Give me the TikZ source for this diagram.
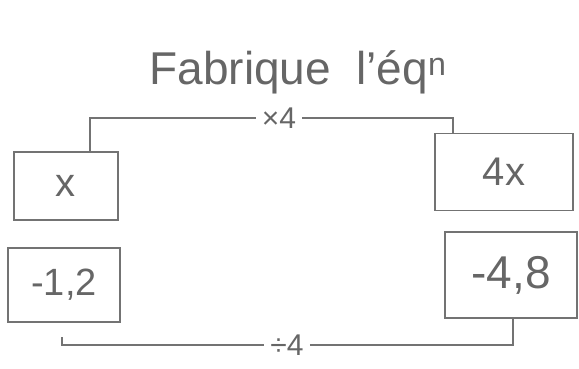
\documentclass[tikz,border=0pt]{standalone}
\usepackage{fontspec}
\setmainfont{Liberation Sans}
\begin{document}
\begin{tikzpicture}[x=1pt,y=-1pt,
  pencil/.style={draw=black!55,line width=1.6pt},
  boxnode/.style={pencil,inner sep=0pt,text=black!60},
  lbl/.style={text=black!60,inner sep=6pt}]
\useasboundingbox (0,0) rectangle (579,369);
\node[lbl,inner sep=1pt,font=\fontsize{46}{48}\selectfont] (title) at (298,72) {Fabrique\ \ l'éq\textsuperscript{n}};
\node[boxnode,minimum width=104pt,minimum height=68pt,font=\fontsize{40}{40}\selectfont] (bx) at (66,186) {x};
\node[boxnode,minimum width=138pt,minimum height=77pt,font=\fontsize{40}{40}\selectfont] (b4x) at (504,172) {4x};
\node[boxnode,minimum width=112pt,minimum height=74pt,font=\fontsize{38}{38}\selectfont] (bm12) at (64,285) {-1,2};
\node[boxnode,minimum width=132pt,minimum height=86pt,font=\fontsize{46}{46}\selectfont] (bm48) at (511,275) {-4,8};
\node[lbl,font=\fontsize{30}{30}\selectfont] (times) at (279,118) {×4};
\node[lbl,font=\fontsize{30}{30}\selectfont] (div) at (287,345) {÷4};
\coordinate (bl) at (62,337);
\draw[pencil] (bx.north -| 90,0) |- (times.west);
\draw[pencil] (times.east) -| (b4x.north -| 453,0);
\draw[pencil] (bl) |- (div.west);
\draw[pencil] (div.east) -| (bm48.south -| 513,0);
\end{tikzpicture}
\end{document}
